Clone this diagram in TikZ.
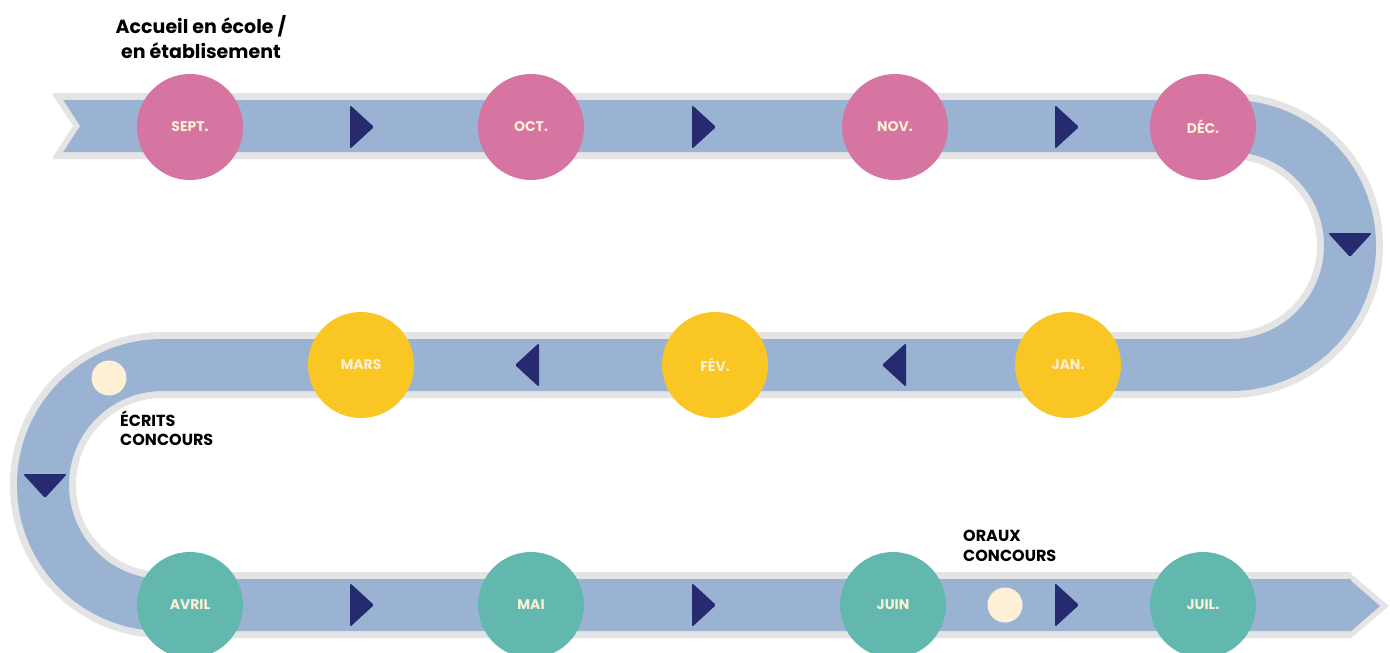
\documentclass[tikz,border=0pt]{standalone}
\usepackage{fontspec}
\setmainfont{Poppins}
\usetikzlibrary{positioning}
\definecolor{rose}{HTML}{D674A2}
\definecolor{jaune}{HTML}{F9C623}
\definecolor{vert}{HTML}{62B7AE}
\definecolor{ruban}{HTML}{9BB3D3}
\definecolor{bord}{HTML}{E4E4E4}
\definecolor{marine}{HTML}{262A6E}
\definecolor{creme}{HTML}{FDF0D5}
\tikzset{%
  % Specifications for style of nodes:
     mois/.style = {circle, minimum size=106pt, inner sep=0pt,
                    text=creme, font=\fontsize{14}{16}\selectfont\bfseries},
  septembre/.style = {mois, fill=rose},
     hiver/.style = {mois, fill=jaune},
  printemps/.style = {mois, fill=vert},
     etape/.style = {circle, minimum size=35pt, inner sep=0pt, fill=creme},
    legende/.style = {align=left, inner sep=0pt,
                    font=\fontsize{16}{19.5}\selectfont\bfseries},
  fleche/.pic = {\fill[marine, rounded corners=1.5pt]
                   (-11,-22) -- (13,0) -- (-11,22) -- cycle;},
}
\begin{document}
\begin{tikzpicture}[x=1pt, y=-1pt]
    \useasboundingbox (0,0) rectangle (1390,653);

    % ruban
    \draw[bord, line width=66pt, rounded corners=119.5pt]
        (53,126) -- (1350,126) -- (1350,365) -- (43,365) -- (43,605) -- (1351,605);
    \fill[bord] (1350,573) -- (1389,606) -- (1350,639) -- cycle;
    \draw[ruban, line width=52pt, rounded corners=119.5pt]
        (63,126) -- (1350,126) -- (1350,365) -- (43,365) -- (43,605) -- (1351,605);
    \fill[ruban] (1350,580) -- (1380,606) -- (1350,632) -- cycle;
    \fill[bord] (63,100) -- (80,126) -- (63,152) -- cycle;
    \fill[white] (50,91) -- (73,126) -- (50,161) -- cycle;

    % fleches
    \foreach \x in {361,703,1066} {
        \pic at (\x,127) {fleche};
        \pic at (\x,605) {fleche};
    }
    \foreach \x in {528,895}
        \pic[rotate=180] at (\x,365) {fleche};
    \pic[rotate=-90] at (1350,244) {fleche};
    \pic[rotate=-90] at (45,485) {fleche};

    % mois
    \node (sept)  [septembre] at (190,127)  {SEPT.};
    \node (oct)   [septembre] at (531,127)  {OCT.};
    \node (nov)   [septembre] at (895,127)  {NOV.};
    \node (dec)   [septembre] at (1203,127) {DÉC.};
    \node (jan)   [hiver]     at (1068,365) {JAN.};
    \node (fev)   [hiver]     at (715,365)  {FÉV.};
    \node (mars)  [hiver]     at (361,365)  {MARS};
    \node (avril) [printemps] at (190,605)  {AVRIL};
    \node (mai)   [printemps] at (531,605)  {MAI};
    \node (juin)  [printemps] at (893,605)  {JUIN};
    \node (juil)  [printemps] at (1203,605) {JUIL.};

    % concours
    \node (ecrits) [etape] at (109,378) {};
    \node (oraux)  [etape] at (1005,605) {};
    \node (accueil) [align=center, font=\fontsize{19}{25}\selectfont\bfseries]
        at (201,37) {Accueil en école /\\en établisement};
    \node (txtecrits) [legende, anchor=west] at (120,428) {ÉCRITS\\CONCOURS};
    \node (txtoraux)  [legende, anchor=west] at (963,546) {ORAUX\\CONCOURS};
\end{tikzpicture}
\end{document}
